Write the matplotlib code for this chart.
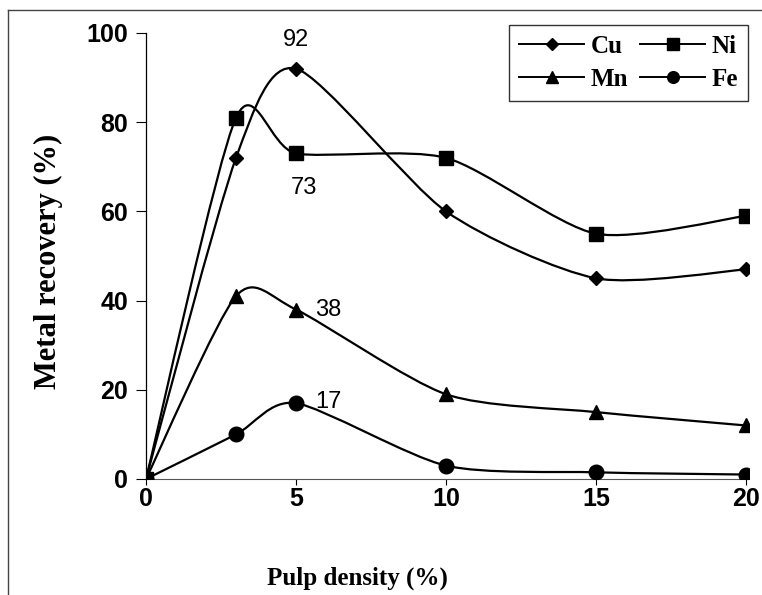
import matplotlib
matplotlib.use("Agg")
import matplotlib.pyplot as plt
from matplotlib.path import Path
from matplotlib.patches import PathPatch
from matplotlib.lines import Line2D

# data
pulp_density = [0, 3, 5, 10, 15, 20]
cu = [0, 72, 92, 60, 45, 47]
ni = [0, 81, 73, 72, 55, 59]
mn = [0, 41, 38, 19, 15, 12]
fe = [0, 10, 17, 3, 1.5, 1]

series = [
    ("Cu", cu, "D", 7.5),
    ("Ni", ni, "s", 10.5),
    ("Mn", mn, "^", 10),
    ("Fe", fe, "o", 10.5),
]

labels_pts = [
    ("92", 5.0, 98.4),
    ("73", 5.25, 65.2),
    ("38", 6.07, 37.9),
    ("17", 6.07, 17.3),
]

TENSION = 1 / 8


def smooth_path(xs, ys):
    # excel-style smoothed line: cubic bezier, catmull-rom like control points
    pts = list(zip(xs, ys))
    n = len(pts)
    verts = [pts[0]]
    codes = [Path.MOVETO]
    for i in range(n - 1):
        p0 = pts[i - 1] if i > 0 else pts[i]
        p1 = pts[i]
        p2 = pts[i + 1]
        p3 = pts[i + 2] if i + 2 < n else pts[i + 1]
        c1 = (p1[0] + (p2[0] - p0[0]) * TENSION,
              p1[1] + (p2[1] - p0[1]) * TENSION)
        c2 = (p2[0] - (p3[0] - p1[0]) * TENSION,
              p2[1] - (p3[1] - p1[1]) * TENSION)
        verts += [c1, c2, p2]
        codes += [Path.CURVE4] * 3
    return Path(verts, codes)


fig = plt.figure(figsize=(7.62, 5.95), dpi=100)
ax = fig.add_axes([146 / 762, 1 - 479 / 595, 603 / 762, 446 / 595])

handles = {}
for name, vals, mk, ms in series:
    ax.add_patch(PathPatch(smooth_path(pulp_density, vals), fill=False,
                           edgecolor="black", linewidth=1.6, zorder=2))
    ax.plot(pulp_density, vals, linestyle="none", marker=mk, markersize=ms,
            color="black", zorder=3)
    handles[name] = Line2D([], [], color="black", linewidth=1.4, marker=mk,
                           markersize=ms * 0.8)

for txt, x, y in labels_pts:
    ax.text(x, y, txt, ha="center", va="center", fontsize=17,
            family="Liberation Sans")

ax.set_xlim(0, 20.1)
ax.set_ylim(0, 100)
ax.set_xticks([0, 5, 10, 15, 20])
ax.set_yticks([0, 20, 40, 60, 80, 100])
for lab in ax.get_xticklabels() + ax.get_yticklabels():
    lab.set_family("Liberation Sans")
    lab.set_fontweight("bold")
    lab.set_fontsize(18)
ax.tick_params(axis="y", direction="out", length=7, width=0.8, pad=6)
ax.tick_params(axis="x", direction="out", length=4, width=0.8, pad=2)

ax.spines["top"].set_visible(False)
ax.spines["right"].set_visible(False)
ax.spines["left"].set_linewidth(0.9)
ax.spines["bottom"].set_linewidth(0.8)
ax.spines["bottom"].set_color("#555555")

order = ["Cu", "Mn", "Ni", "Fe"]
leg = ax.legend([handles[k] for k in order], order, ncol=2,
                loc="upper right", bbox_to_anchor=(748 / 762, 1 - 25 / 595),
                bbox_transform=fig.transFigure, frameon=True, fancybox=False,
                edgecolor="black", handlelength=2.6, columnspacing=0.5,
                handletextpad=0.25, borderpad=0.4, labelspacing=0.4,
                borderaxespad=0,
                prop={"family": "Liberation Serif", "weight": "bold",
                      "size": 18})
leg.get_frame().set_linewidth(1.0)

fig.text(48 / 762, 1 - 261 / 595, "Metal recovery (%)", rotation=90,
         ha="center", va="center", fontsize=22, fontweight="bold",
         family="Liberation Serif")
fig.text(357 / 762, 1 - 578 / 595, "Pulp density (%)", ha="center",
         va="center", fontsize=18, fontweight="bold",
         family="Liberation Serif")

# scanned page frame
fig.add_artist(Line2D([8 / 762, 8 / 762], [0, 1 - 10 / 595],
                      transform=fig.transFigure, color="#444444", lw=1))
fig.add_artist(Line2D([8 / 762, 1], [1 - 10 / 595, 1 - 10 / 595],
                      transform=fig.transFigure, color="#444444", lw=1))

fig.savefig("out.png", dpi=100)
plt.close(fig)
